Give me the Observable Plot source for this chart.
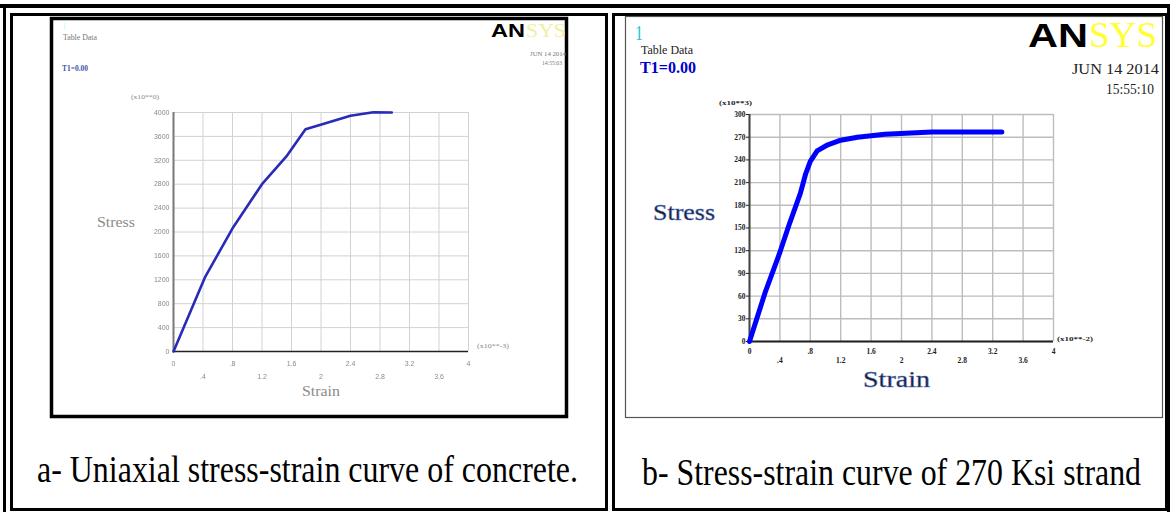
<!DOCTYPE html>
<html><head><meta charset="utf-8">
<script src="https://cdn.jsdelivr.net/npm/d3@7"></script>
<script src="https://cdn.jsdelivr.net/npm/@observablehq/plot@0.6"></script>
<style>
html,body{margin:0;padding:0;background:#fff}
body{width:1170px;height:512px;position:relative;overflow:hidden;font-family:"Liberation Serif",serif}
.abs{position:absolute;box-sizing:border-box}
#overlay{position:absolute;left:0;top:0;pointer-events:none}
</style></head><body>
<div class="abs" style="left:0;top:4px;width:1170px;height:4px;background:#000"></div>
<div class="abs" style="left:3px;top:4px;width:3px;height:508px;background:#000"></div>
<div class="abs" style="left:1167px;top:4px;width:3px;height:508px;background:#000"></div>
<div class="abs" style="left:10px;top:13px;width:598px;height:498px;border:3px solid #000"></div>
<div class="abs" style="left:612px;top:13px;width:556px;height:498px;border:3px solid #000"></div>
<div id="leftChart" class="abs" style="left:53px;top:20px;filter:blur(0.3px)"></div>
<div id="rightChart" class="abs" style="left:627px;top:17px"></div>
<svg id="overlay" width="1170" height="512"></svg>
<script>
// ---- data ----
const concreteStrain = [0, 0.43, 0.81, 1.20, 1.54, 1.79, 1.95, 2.40, 2.71, 2.96];
const concreteStress = [0, 1250, 2080, 2800, 3280, 3720, 3780, 3945, 4005, 4000];
const strandStrain = [0, 0.21, 0.39, 0.52, 0.67, 0.74, 0.80, 0.89, 1.03, 1.20, 1.42, 1.78, 2.40, 3.32];
const strandStress = [0, 66, 115, 154, 196, 222, 238, 252, 260, 266, 270, 274, 277, 277];
const strainTicks = [0, 0.4, 0.8, 1.2, 1.6, 2, 2.4, 2.8, 3.2, 3.6, 4];
const concreteStressTicks = [0, 400, 800, 1200, 1600, 2000, 2400, 2800, 3200, 3600, 4000];
const strandStressTicks = [0, 30, 60, 90, 120, 150, 180, 210, 240, 270, 300];
const captionA = "a- Uniaxial stress-strain curve of concrete.";
const captionB = "b- Stress-strain curve of 270 Ksi strand";
const axisNames = {stress: "Stress", strain: "Strain"};
const unitsA = {y: "(x10**0)", x: "(x10**-3)"};
const unitsB = {y: "(x10**3)", x: "(x10**-2)"};
const header = {table: "Table Data", t1: "T1=0.00", logoA: "AN", logoB: "SYS",
  dateA: "JUN 14 2014", timeA: "14:55:03", dateB: "JUN 14 2014", timeB: "15:55:10", num: "1"};

// ---- helpers ----
const fmtStrain = d => d === 0 ? "0" : String(+d.toFixed(1)).replace(/^0\./, ".");
const evenStrain = strainTicks.filter((d, i) => i % 2 === 0);
const oddStrain = strainTicks.filter((d, i) => i % 2 === 1);
const concrete = concreteStrain.map((x, i) => ({strain: x, stress: concreteStress[i]}));
const strand = strandStrain.map((x, i) => ({strain: x, stress: strandStress[i]}));

// ---- left chart (concrete) ----
const leftPlot = Plot.plot({
  width: 512, height: 395, marginLeft: 120, marginRight: 97, marginTop: 92, marginBottom: 64,
  x: {domain: [0, 4], label: null}, y: {domain: [0, 4000], label: null},
  style: {background: "transparent", fontFamily: "'Liberation Sans', sans-serif", overflow: "visible"},
  marks: [
    Plot.gridX(strainTicks, {stroke: "#d2d2d2", strokeOpacity: 1}),
    Plot.gridY(concreteStressTicks, {stroke: "#d2d2d2", strokeOpacity: 1}),
    Plot.ruleX([0], {stroke: "#777", strokeWidth: 2}),
    Plot.ruleY([0], {stroke: "#222", strokeWidth: 1.5}),
    Plot.axisY(concreteStressTicks, {tickSize: 0, tickPadding: 4, fontSize: 7, fill: "#8a8a8a", tickFormat: d => String(d), label: null}),
    Plot.axisX(evenStrain, {tickSize: 0, tickPadding: 10, fontSize: 7, fill: "#8a8a8a", tickFormat: fmtStrain, label: null}),
    Plot.axisX(oddStrain, {tickSize: 0, tickPadding: 23, fontSize: 7, fill: "#8a8a8a", tickFormat: fmtStrain, label: null}),
    Plot.line(concrete, {x: "strain", y: "stress", stroke: "#2a2ab8", strokeWidth: 2.6})
  ]
});
document.getElementById("leftChart").append(leftPlot);

// ---- right chart (strand) ----
const rightPlot = Plot.plot({
  width: 534, height: 399, marginLeft: 122, marginRight: 108, marginTop: 97, marginBottom: 75,
  x: {domain: [0, 4], label: null}, y: {domain: [0, 300], label: null},
  style: {background: "transparent", fontFamily: "'Liberation Serif', serif", overflow: "visible"},
  marks: [
    Plot.gridX(strainTicks, {stroke: "#bdbdbd", strokeWidth: 1.4, strokeOpacity: 1}),
    Plot.gridY(strandStressTicks, {stroke: "#bdbdbd", strokeWidth: 1.4, strokeOpacity: 1}),
    Plot.ruleX([0], {stroke: "#444", strokeWidth: 2}),
    Plot.ruleY([0], {stroke: "#222", strokeWidth: 2}),
    Plot.axisY(strandStressTicks, {tickSize: 3, tickPadding: 1, fontSize: 7.5, fontWeight: "bold", fill: "#222", stroke: "#222", tickFormat: d => String(d), label: null}),
    Plot.axisX(evenStrain, {tickSize: 0, tickPadding: 7, fontSize: 7.5, fontWeight: "bold", fill: "#222", tickFormat: fmtStrain, label: null}),
    Plot.axisX(oddStrain, {tickSize: 0, tickPadding: 16, fontSize: 7.5, fontWeight: "bold", fill: "#222", tickFormat: fmtStrain, label: null}),
    Plot.line(strand, {x: "strain", y: "stress", stroke: "#0000ff", strokeWidth: 5, curve: "linear"})
  ]
});
document.getElementById("rightChart").append(rightPlot);

// ---- overlay: frames, headers, axis names, captions ----
const ov = d3.select("#overlay");
ov.append("rect").attr("x", 51.5).attr("y", 18.5).attr("width", 515).attr("height", 398)
  .attr("fill", "none").attr("stroke", "#000").attr("stroke-width", 3.5);
ov.append("rect").attr("x", 625.5).attr("y", 16.5).attr("width", 537).attr("height", 401)
  .attr("fill", "none").attr("stroke", "#555").attr("stroke-width", 1.2);

const SERIF = "Liberation Serif, Times New Roman, serif";
const SANS = "Liberation Sans, Arial, sans-serif";
function txt(s, x, y, size, len, opts = {}) {
  const g = ov.append("g").attr("transform", `translate(${x},${y}) scale(1,${opts.sy || 1})`);
  const t = g.append("text").attr("x", 0).attr("y", 0).attr("font-size", size)
    .attr("font-family", opts.family || SERIF)
    .attr("fill", opts.fill || "#000").text(s);
  if (len) t.attr("textLength", len).attr("lengthAdjust", "spacingAndGlyphs");
  if (opts.weight) t.attr("font-weight", opts.weight);
  if (opts.stroke) t.attr("stroke", opts.stroke).attr("stroke-width", opts.sw || 0.4);
  return t;
}
// left panel header (faded)
txt(header.num, 62, 29, 9, null, {fill: "#bfe"});
txt(header.table, 63, 40, 8, 34, {fill: "#777"});
txt(header.t1, 62, 71, 9, 26, {fill: "#4455aa", weight: "bold"});
txt(header.logoA, 491, 37, 19, 34, {family: SANS, weight: "bold"});
txt(header.logoB, 526, 37, 19, 40, {fill: "#f3eea0"});
txt(header.dateA, 530, 56, 6, 36, {fill: "#777"});
txt(header.timeA, 542, 65, 6, 20, {fill: "#777"});
txt(unitsA.y, 131, 99, 6, 28, {fill: "#888"});
txt(unitsA.x, 477, 348, 6, 32, {fill: "#888"});
txt(axisNames.stress, 97, 227, 14, 38, {fill: "#8a8a8a"});
txt(axisNames.strain, 302, 396, 15, 38, {fill: "#8a8a8a"});
// right panel header
txt(header.num, 635, 40, 20, 8, {fill: "#20c0e0"});
txt(header.table, 641, 54, 11.5, 52, {fill: "#222"});
txt(header.t1, 640, 73, 16, 56, {fill: "#0000cc", weight: "bold"});
txt(header.logoA, 1028, 47, 33, 60, {family: SANS, weight: "bold"});
txt(header.logoB, 1089, 47, 35, 68, {fill: "#ffff33"});
txt(header.dateB, 1072, 74, 15, 87, {fill: "#222"});
txt(header.timeB, 1106, 94, 14, 48, {fill: "#222"});
txt(unitsB.y, 719, 105, 7, 33, {fill: "#222", weight: "bold"});
txt(unitsB.x, 1057, 341, 7, 36, {fill: "#222", weight: "bold"});
txt(axisNames.stress, 653, 220, 24, 62, {fill: "#1a1a3a", stroke: "#5577bb", sw: 0.5});
txt(axisNames.strain, 863, 387, 24, 67, {fill: "#1a1a3a", stroke: "#5577bb", sw: 0.5});
// captions
txt(captionA, 37, 482, 32, 541, {sy: 1.18});
txt(captionB, 642, 485, 32, 499, {sy: 1.18});
</script>
</body></html>
